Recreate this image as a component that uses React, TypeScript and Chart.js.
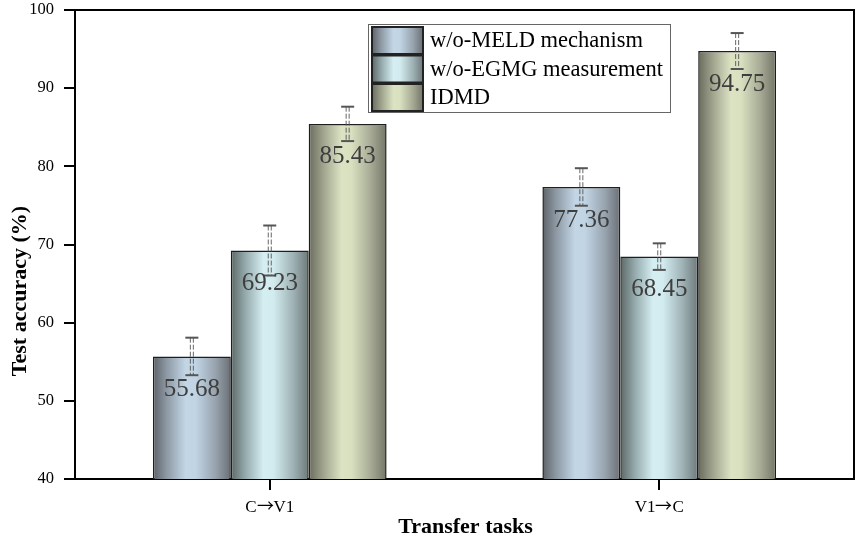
import React, { useEffect, useRef } from "react";
import { Chart, registerables } from "chart.js";

Chart.register(...registerables);

const categories = ["C→V1", "V1→C"];
const seriesNames = ["w/o-MELD mechanism", "w/o-EGMG measurement", "IDMD"];
const meldValues = [55.68, 77.36];
const egmgValues = [69.23, 68.45];
const idmdValues = [85.43, 94.75];
const meldErrors = [2.4, 2.4];
const egmgErrors = [3.2, 1.7];
const idmdErrors = [2.2, 2.3];
const yMin = 40;
const yMax = 100;
const yStep = 10;
const xTitle = "Transfer tasks";
const yTitle = "Test accuracy (%)";

const FONT = '"Liberation Serif", "Times New Roman", serif';
const TICK_FONT = '"ArrowFB", "Liberation Serif", serif';

const palettes = [
  ["#5e6268", "#8e9aa5", "#c3d6e6", "#c1d4e4", "#98a4af", "#6a6f75"],
  ["#5c6766", "#93a8aa", "#d5eef2", "#d2ebef", "#9fb2b5", "#6e797b"],
  ["#6a6c5d", "#9ea28c", "#dbe3c3", "#d8e0c0", "#a6aa94", "#737567"],
];
const stopPos = [0, 0.18, 0.42, 0.55, 0.8, 1];

function makeGradient(ctx: CanvasRenderingContext2D, x0: number, x1: number, pal: string[]) {
  const g = ctx.createLinearGradient(x0, 0, x1, 0);
  pal.forEach((c, i) => g.addColorStop(stopPos[i], c));
  return g;
}

const errorsBySeries = [meldErrors, egmgErrors, idmdErrors];

const shadePlugin = {
  id: "shade",
  beforeDatasetsDraw(chart: any) {
    const ctx = chart.ctx;
    chart.data.datasets.forEach((_ds: any, i: number) => {
      const meta = chart.getDatasetMeta(i);
      meta.data.forEach((el: any) => {
        const { x, width } = el.getProps(["x", "width"], true);
        const g = makeGradient(ctx, x - width / 2, x + width / 2, palettes[i]);
        el.options = { ...el.options, backgroundColor: g };
      });
    });
  },
};

const errorPlugin = {
  id: "errors",
  afterDatasetsDraw(chart: any) {
    const { ctx, chartArea } = chart;
    const yScale = chart.scales.y;
    ctx.save();
    ctx.strokeStyle = "#000";
    ctx.lineWidth = 2;
    ctx.beginPath();
    ctx.moveTo(chartArea.left, chartArea.top);
    ctx.lineTo(chartArea.right, chartArea.top);
    ctx.lineTo(chartArea.right, chartArea.bottom);
    ctx.stroke();
    ctx.restore();

    chart.data.datasets.forEach((ds: any, i: number) => {
      const meta = chart.getDatasetMeta(i);
      meta.data.forEach((el: any, j: number) => {
        const v = ds.data[j];
        const e = errorsBySeries[i][j];
        const { x, y: top } = el.getProps(["x", "y"], true);
        const yHi = yScale.getPixelForValue(v + e);
        const yLo = yScale.getPixelForValue(v - e);
        ctx.save();
        ctx.strokeStyle = "rgba(85,85,85,0.9)";
        ctx.lineWidth = 1;
        ctx.setLineDash([5, 2]);
        [x - 1.5, x + 1.5].forEach((xx) => {
          ctx.beginPath();
          ctx.moveTo(xx, yHi);
          ctx.lineTo(xx, yLo);
          ctx.stroke();
        });
        ctx.setLineDash([]);
        ctx.strokeStyle = "#555";
        ctx.lineWidth = 2;
        [yHi, yLo].forEach((yy) => {
          ctx.beginPath();
          ctx.moveTo(x - 6.5, yy);
          ctx.lineTo(x + 6.5, yy);
          ctx.stroke();
        });
        ctx.fillStyle = "#3e3e3e";
        ctx.font = `25px ${FONT}`;
        ctx.textAlign = "center";
        ctx.textBaseline = "middle";
        ctx.fillText(v.toFixed(2), x, top + 33);
        ctx.restore();
      });
    });
  },
};

const decorPlugin = {
  id: "decor",
  afterDraw(chart: any) {
    const { ctx, chartArea } = chart;
    ctx.save();
    const bx = 368.5, by = 24.5, bw = 302, bh = 88;
    ctx.fillStyle = "#fff";
    ctx.fillRect(bx, by, bw, bh);
    ctx.strokeStyle = "#666";
    ctx.lineWidth = 1;
    ctx.strokeRect(bx, by, bw, bh);
    const rows = [27, 55.5, 84];
    chart.data.datasets.forEach((ds: any, i: number) => {
      const sx = 372, sw = 51, sy = rows[i], sh = 27;
      ctx.fillStyle = makeGradient(ctx, sx, sx + sw, palettes[i]);
      ctx.fillRect(sx, sy, sw, sh);
      ctx.strokeStyle = "#222";
      ctx.lineWidth = 2;
      ctx.strokeRect(sx, sy, sw, sh);
      ctx.fillStyle = "#000";
      ctx.font = `22.5px ${FONT}`;
      ctx.textAlign = "left";
      ctx.textBaseline = "middle";
      ctx.fillText(ds.label, 430, sy + sh / 2 + 1);
    });
    ctx.fillStyle = "#000";
    ctx.font = `bold 22px ${FONT}`;
    ctx.textAlign = "center";
    ctx.textBaseline = "middle";
    ctx.fillText(xTitle, (chartArea.left + chartArea.right) / 2 + 1, 527);
    ctx.translate(20, 291);
    ctx.rotate(-Math.PI / 2);
    ctx.fillText(yTitle, 0, 0);
    ctx.restore();
  },
};

const fontCss = `@font-face { font-family: "ArrowFB"; src: local("Noto Sans CJK SC"), local("NotoSansCJKsc-Regular"), local("Noto Sans CJK JP"); unicode-range: U+2192; }`;

export default function App() {
  const ref = useRef<HTMLCanvasElement | null>(null);
  useEffect(() => {
    let chart: any = null;
    let cancelled = false;
    const style = document.createElement("style");
    style.textContent = fontCss;
    document.head.appendChild(style);
    const values = [meldValues, egmgValues, idmdValues];
    const build = () => {
      if (cancelled || !ref.current) return;
      chart = new Chart(ref.current, {
        type: "bar",
        data: {
          labels: categories,
          datasets: seriesNames.map((name, i) => ({
            label: name,
            data: values[i],
            backgroundColor: palettes[i][2],
            borderColor: "#1e1e1e",
            borderWidth: 1.5,
            borderSkipped: false,
            categoryPercentage: 0.6,
            barPercentage: 1.0,
          })),
        },
        options: {
          responsive: false,
          animation: false,
          devicePixelRatio: 1,
          layout: { padding: { left: 0, right: 8, top: 10, bottom: 0 } },
          plugins: { legend: { display: false }, tooltip: { enabled: false } },
          scales: {
            x: {
              offset: true,
              grid: { offset: false, drawOnChartArea: false, drawTicks: true, tickLength: 11, color: "#000", lineWidth: 2 },
              border: { display: true, color: "#000", width: 2 },
              ticks: { font: { family: TICK_FONT, size: 17 }, color: "#000", padding: 7 },
              afterFit: (s: any) => { s.height = 67; s.paddingLeft = 0; s.paddingRight = 0; },
            },
            y: {
              min: yMin,
              max: yMax,
              ticks: { stepSize: yStep, font: { family: FONT, size: 16.5 }, color: "#000", padding: 10 },
              grid: { drawOnChartArea: false, drawTicks: true, tickLength: 11, color: "#000", lineWidth: 2 },
              border: { display: true, color: "#000", width: 2 },
              afterFit: (s: any) => { s.width = 75; s.paddingTop = 0; s.paddingBottom = 0; },
            },
          },
        },
        plugins: [shadePlugin, errorPlugin, decorPlugin],
      } as any);
    };
    const fonts: any = (document as any).fonts;
    if (fonts && fonts.load) {
      fonts.load('17px "ArrowFB"', "→").then(build, build);
    } else {
      build();
    }
    return () => {
      cancelled = true;
      if (chart) chart.destroy();
      style.remove();
    };
  }, []);
  return (
    <div style={{ position: "fixed", left: 0, top: 0, width: 862, height: 546, background: "#fff" }}>
      <canvas ref={ref} width={862} height={546} style={{ display: "block" }} />
    </div>
  );
}
